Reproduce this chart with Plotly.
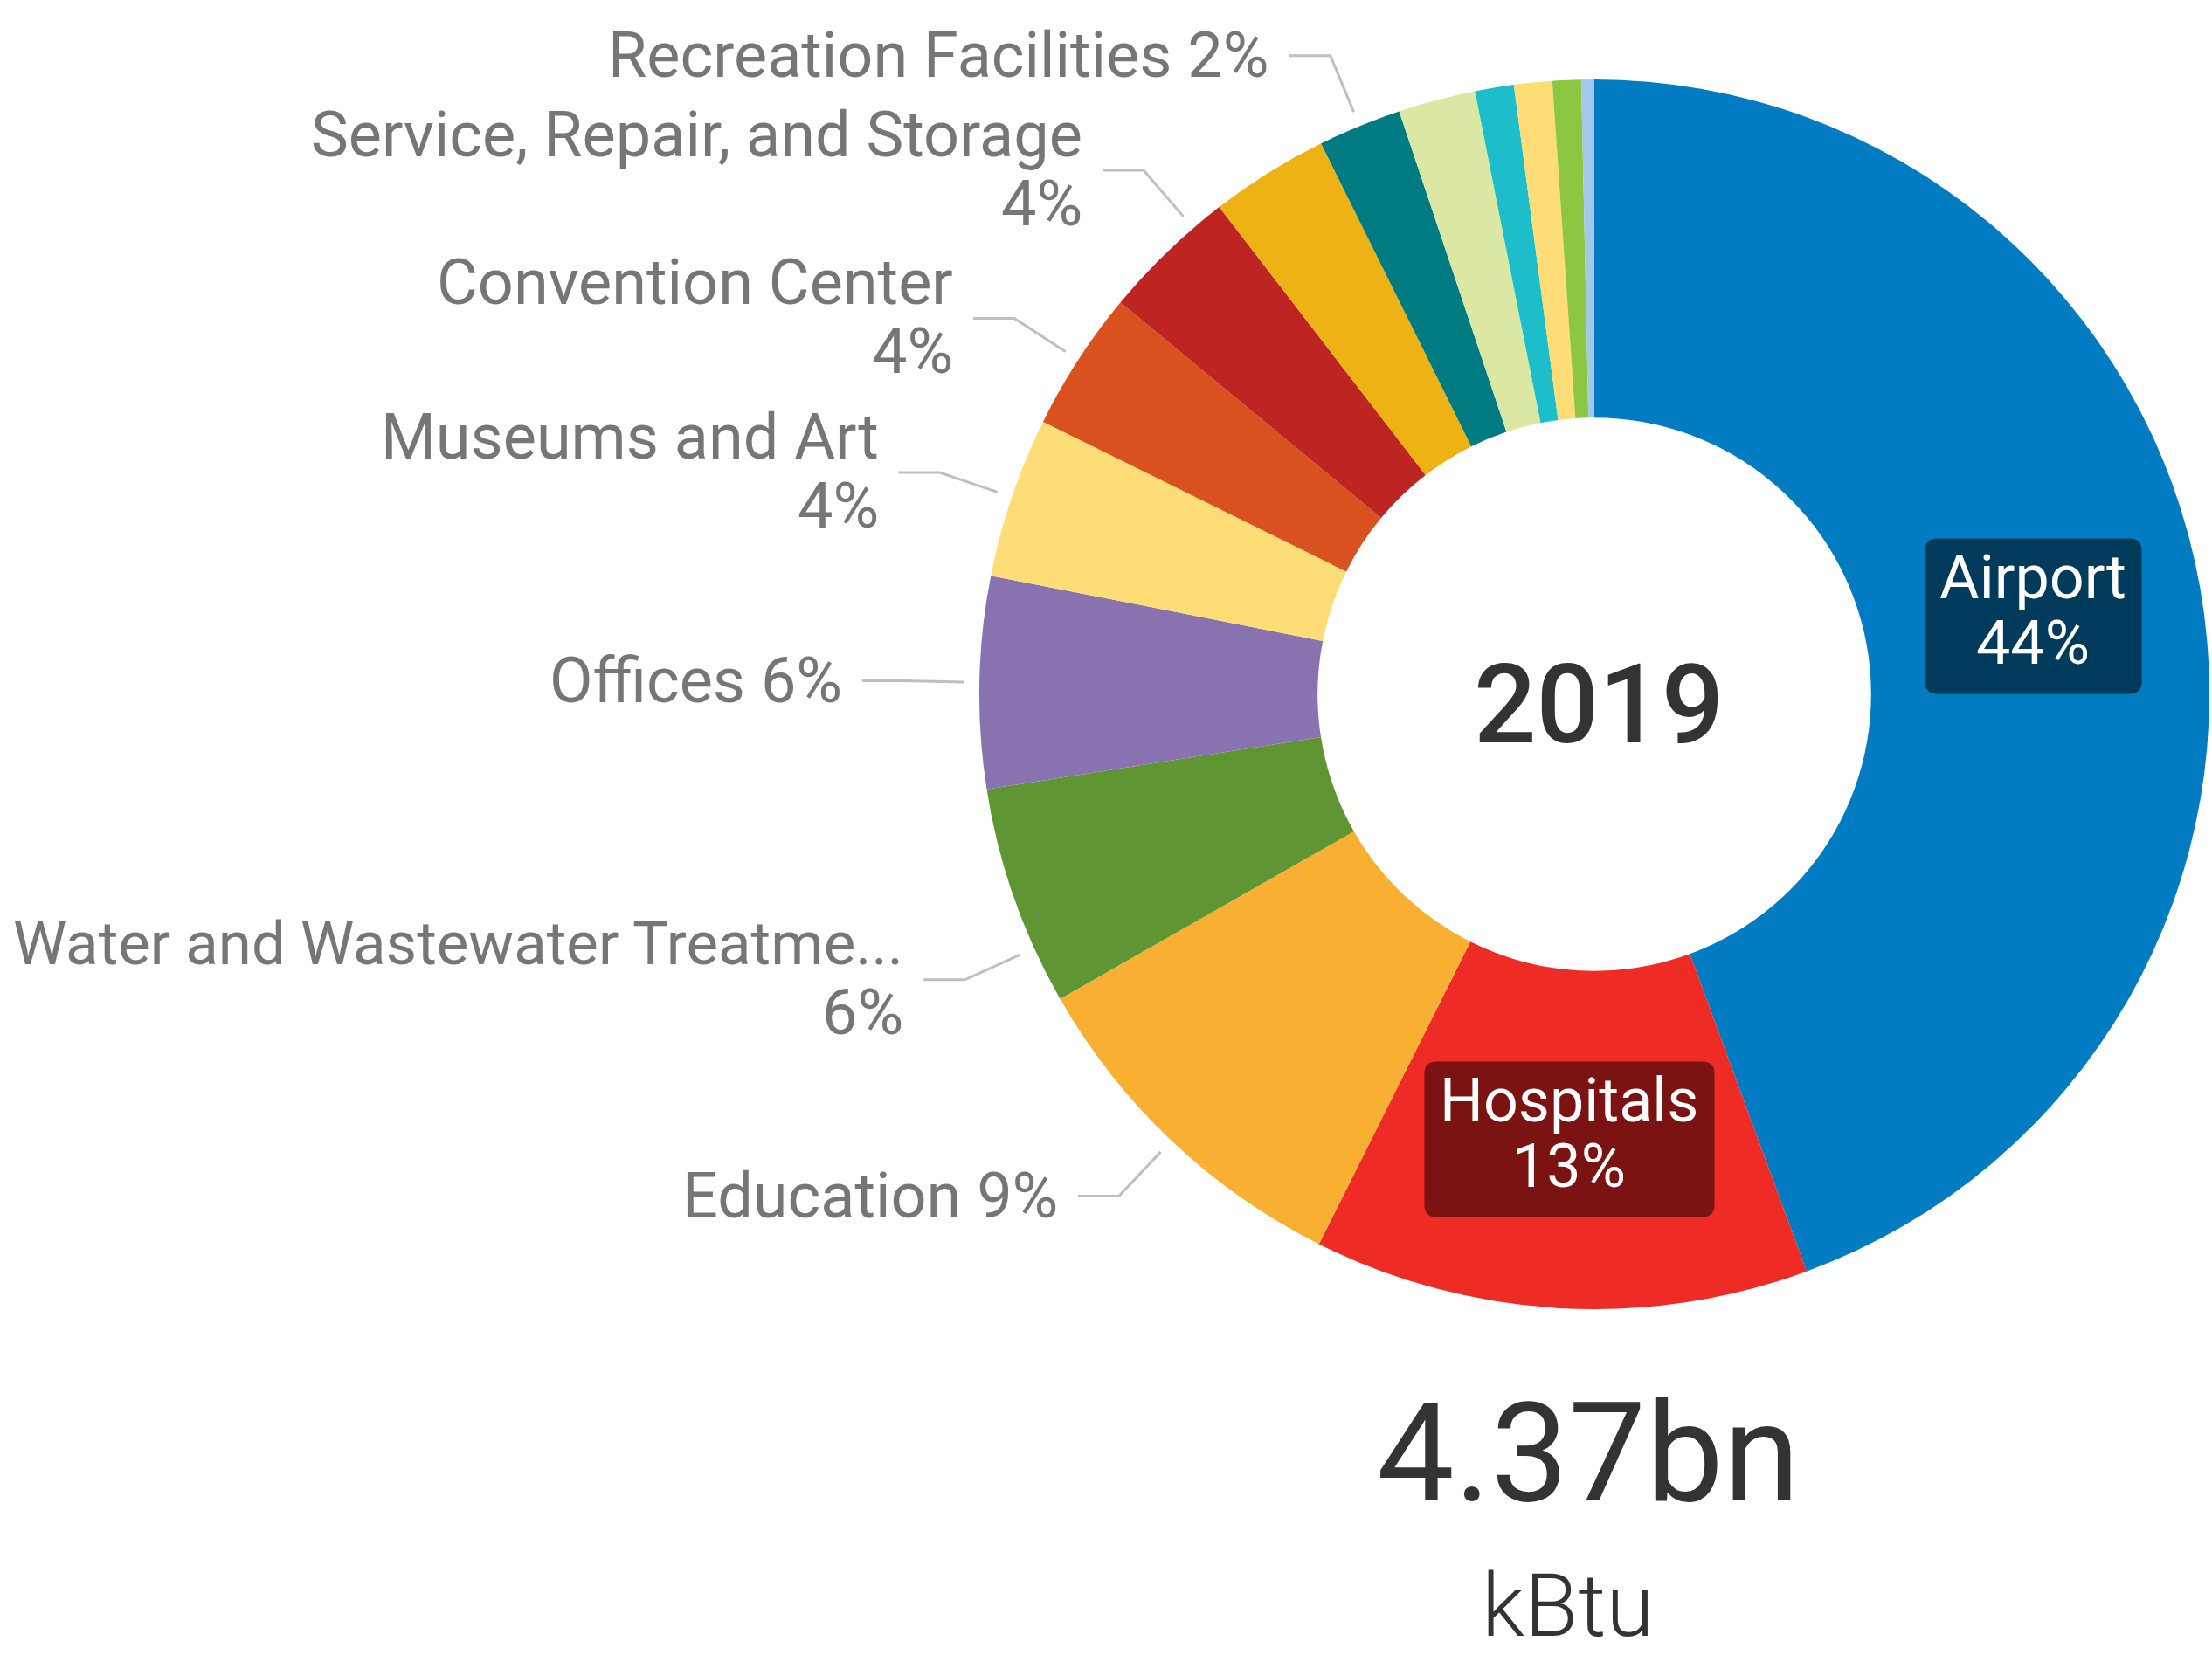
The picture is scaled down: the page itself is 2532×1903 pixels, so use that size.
import math
import plotly.graph_objects as go

# ---------------- data ----------------
categories = [
    "Airport", "Hospitals", "Education", "Water and Wastewater Treatment", "Offices",
    "Museums and Art", "Convention Center", "Service, Repair, and Storage",
    "Public Safety", "Recreation Facilities", "Libraries", "Parking",
    "Housing", "Laboratories", "Other",
]
shares = [44.39, 13.00, 9.36, 5.78, 5.56, 4.22, 3.69, 3.56, 3.11, 2.19, 2.03, 1.02, 1.00, 0.75, 0.34]
colors = [
    "#017cc2", "#ee2b24", "#f9af32", "#5f9633", "#8872b0",
    "#fedc76", "#d8511e", "#be2421", "#eeb214", "#007b82",
    "#dbe8a4", "#1dbec9", "#fedc76", "#8dc640", "#a0c9ea",
]
year_label = "2019"
total_label = "4.37bn"
unit_label = "kBtu"

# ---------------- label styling ----------------
inside_labels = {"Airport": "#003b5c", "Hospitals": "#7a1311"}
outside_single = ["Education", "Offices", "Recreation Facilities"]
outside_double = ["Water and Wastewater Treatment", "Museums and Art",
                  "Convention Center", "Service, Repair, and Storage"]
leader_nudge = {"Water and Wastewater Treatment": -5.1, "Service, Repair, and Storage": 3.3}
label_size_override = {"Water and Wastewater Treatment": 69}

W, H = 2532, 1903
CX, CY, R = 1825, 795, 704
HOLE = 0.45
R_START = R * 1.025
R_ELBOW = R * 1.124
H_LEN = 47
GAP = 21
FONT = "Roboto, 'DejaVu Sans', sans-serif"
LABEL_SIZE = 72
BOX_SIZE = 70
GRAY = "#767676"
LINE_GRAY = "#bfbfbf"


def px(x):
    return x / W


def py(y):
    return 1 - y / H


def polar(angle_deg, r):
    a = math.radians(angle_deg)
    return CX + r * math.sin(a), CY - r * math.cos(a)


CHAR_W = {"A": .65, "H": .71, "a": .54, "i": .24, "r": .34, "p": .56, "o": .57,
          "t": .33, "s": .52, "l": .24, "%": .73, " ": .25}


def text_width(s, size):
    w = 0
    for ch in s:
        if ch in CHAR_W:
            w += CHAR_W[ch]
        elif ch.isdigit():
            w += .56
        elif ch.isupper():
            w += .62
        else:
            w += .54
    return w * size


def short_name(s):
    return s if len(s) <= 28 else s[:28] + "..."


total = sum(shares)
pcts = [v / total * 100 for v in shares]

fig = go.Figure(go.Pie(
    labels=categories,
    values=shares,
    sort=False,
    direction="clockwise",
    rotation=0,
    hole=HOLE,
    marker=dict(colors=colors, line=dict(width=0)),
    textinfo="none",
    hovertemplate="%{label}: %{percent:.0%}<extra></extra>",
    domain=dict(x=[px(CX - R), px(CX + R)], y=[py(CY + R), py(CY - R)]),
    showlegend=False,
))

annotations = []
shapes = []

cum = 0.0
for name, p in zip(categories, pcts):
    start = cum * 3.6
    cum += p
    end = cum * 3.6
    mid = (start + end) / 2
    pct_txt = f"{round(p):.0f}%"

    if name in inside_labels:
        bx, by = polar(mid, R * (1 + HOLE) / 2)
        bw = max(text_width(name, BOX_SIZE), text_width(pct_txt, BOX_SIZE)) + 36
        bh = 178
        x0, x1, y0, y1 = bx - bw / 2, bx + bw / 2, by - bh / 2, by + bh / 2
        rr = 14
        pts = [
            ("M", [(x0 + rr, y0)]), ("L", [(x1 - rr, y0)]), ("Q", [(x1, y0), (x1, y0 + rr)]),
            ("L", [(x1, y1 - rr)]), ("Q", [(x1, y1), (x1 - rr, y1)]), ("L", [(x0 + rr, y1)]),
            ("Q", [(x0, y1), (x0, y1 - rr)]), ("L", [(x0, y0 + rr)]), ("Q", [(x0, y0), (x0 + rr, y0)]),
        ]
        path = " ".join(cmd + " " + " ".join(f"{px(a):.5f},{py(b):.5f}" for a, b in ps) for cmd, ps in pts) + " Z"
        shapes.append(dict(type="path", xref="paper", yref="paper", path=path,
                           fillcolor=inside_labels[name], line=dict(width=0), layer="above"))
        annotations.append(dict(x=px(bx), y=py(by - 45), xref="paper", yref="paper", text=name,
                                showarrow=False, xanchor="center", yanchor="middle",
                                font=dict(family=FONT, size=BOX_SIZE, color="white")))
        annotations.append(dict(x=px(bx), y=py(by + 30), xref="paper", yref="paper", text=pct_txt,
                                showarrow=False, xanchor="center", yanchor="middle",
                                font=dict(family=FONT, size=BOX_SIZE, color="white")))
    elif name in outside_single or name in outside_double:
        a = mid + leader_nudge.get(name, 0)
        size = label_size_override.get(name, LABEL_SIZE)
        x0, y0 = polar(a, R_START)
        x1, y1 = polar(a, R_ELBOW)
        side = 1 if math.sin(math.radians(a)) > 0 else -1
        x2 = x1 + side * H_LEN
        shapes.append(dict(type="path", xref="paper", yref="paper",
                           path=f"M {px(x0):.5f},{py(y0):.5f} L {px(x1):.5f},{py(y1):.5f} L {px(x2):.5f},{py(y1):.5f}",
                           line=dict(color=LINE_GRAY, width=3), layer="above"))
        tx = x2 + side * GAP
        anchor = "left" if side > 0 else "right"
        if name in outside_single:
            annotations.append(dict(x=px(tx), y=py(y1), xref="paper", yref="paper",
                                    text=f"{short_name(name)} {pct_txt}", showarrow=False,
                                    xanchor=anchor, yanchor="middle",
                                    font=dict(family=FONT, size=size, color=GRAY)))
        else:
            annotations.append(dict(x=px(tx), y=py(y1 - 41), xref="paper", yref="paper",
                                    text=short_name(name), showarrow=False,
                                    xanchor=anchor, yanchor="middle",
                                    font=dict(family=FONT, size=size, color=GRAY)))
            annotations.append(dict(x=px(tx), y=py(y1 + 38), xref="paper", yref="paper",
                                    text=pct_txt, showarrow=False,
                                    xanchor=anchor, yanchor="middle",
                                    font=dict(family=FONT, size=LABEL_SIZE, color=GRAY)))

# centre and card texts
annotations.append(dict(x=px(CX + 5), y=py(CY + 12), xref="paper", yref="paper", text=year_label,
                        showarrow=False, xanchor="center", yanchor="middle",
                        font=dict(family=FONT, size=126, color="#333333", weight=500)))
annotations.append(dict(x=px(1818), y=py(1664), xref="paper", yref="paper", text=total_label,
                        showarrow=False, xanchor="center", yanchor="middle",
                        font=dict(family=FONT, size=158, color="#333333")))
annotations.append(dict(x=px(1795), y=py(1838), xref="paper", yref="paper", text=unit_label,
                        showarrow=False, xanchor="center", yanchor="middle",
                        font=dict(family=FONT, size=100, color="#333333", weight=300)))

fig.update_layout(
    width=W, height=H,
    margin=dict(l=0, r=0, t=0, b=0),
    paper_bgcolor="white",
    plot_bgcolor="white",
    annotations=annotations,
    shapes=shapes,
)

fig.write_html("out.html", config={"displayModeBar": False},
               post_script="document.body.style.margin='0';document.body.style.overflow='hidden';")
